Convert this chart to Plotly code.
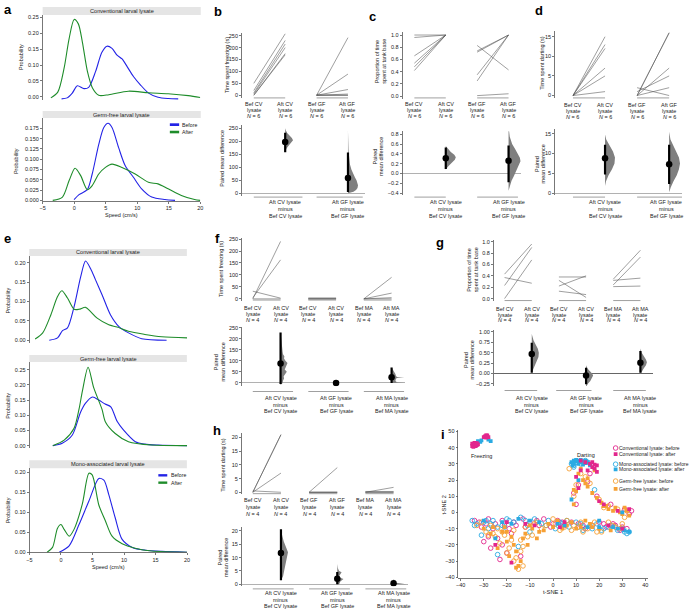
import plotly.graph_objects as go

W, H = 689, 615
FONT = "Liberation Sans"
TXC = "#222222"
AXC = "#555555"
BLUE = "#2323e6"
GREEN = "#1e8c2a"
MAG = "#e2268d"
CYAN = "#2aaae2"
ORNG = "#f6a035"
VGREY = "#7f7f7f"

# ======================= DATA =======================
# Panel a: speed distributions
a_cv_bef_x = [-2.0, -1.1, -0.3, 0.5, 1.55, 2.3, 3.4, 4.4, 5.2, 6.0, 6.8, 7.6, 8.4, 9.4, 10.5, 11.8, 13.3, 14.9, 16.5]
a_cv_bef_y = [-0.006, -0.003, 0.012, 0.035, 0.026, 0.030, 0.080, 0.140, 0.159, 0.152, 0.131, 0.119, 0.095, 0.064, 0.038, 0.012, -0.001, -0.005, -0.006]
a_cv_aft_x = [-3.7, -2.6, -1.6, -0.8, 0.0, 0.66, 1.3, 2.1, 2.9, 3.9, 5.5, 8.6, 11.8, 14.9, 18.1, 20.0]
a_cv_aft_y = [-0.003, 0.015, 0.090, 0.183, 0.243, 0.229, 0.172, 0.080, 0.028, 0.005, 0.007, 0.018, 0.013, 0.010, 0.004, -0.002]
a_gf_bef_x = [-0.02, 0.77, 2.08, 2.86, 3.9, 4.7, 5.38, 6.0, 7.05, 8.1, 9.4, 10.7, 12.3, 14.4, 16.0]
a_gf_bef_y = [0.002, 0.014, 0.026, 0.064, 0.136, 0.177, 0.187, 0.177, 0.128, 0.084, 0.056, 0.028, 0.008, 0.002, 0.0]
a_gf_aft_x = [-3.4, -1.86, -0.8, 0.14, 1.03, 2.08, 2.86, 3.9, 4.96, 6.0, 7.58, 9.68, 11.77, 13.3, 14.9, 17.0, 19.1, 20.0]
a_gf_aft_y = [0.0, 0.008, 0.048, 0.078, 0.060, 0.026, 0.036, 0.064, 0.080, 0.088, 0.080, 0.064, 0.044, 0.040, 0.028, 0.012, 0.002, 0.0]

# Panel e: speed distributions
e_cv_bef_x = [-1.86, -0.55, 0.24, 1.03, 2.08, 3.12, 3.9, 4.7, 5.48, 6.53, 7.84, 9.15, 10.72, 12.8, 16.75]
e_cv_bef_y = [0.0, 0.006, 0.025, 0.032, 0.087, 0.164, 0.205, 0.185, 0.156, 0.117, 0.066, 0.036, 0.019, 0.004, 0.0]
e_cv_aft_x = [-4.1, -2.9, -1.6, -0.55, 0.14, 1.03, 2.08, 2.86, 3.9, 4.7, 5.74, 7.58, 8.9, 10.7, 13.3, 16.0, 20.0]
e_cv_aft_y = [0.003, 0.019, 0.066, 0.113, 0.128, 0.109, 0.080, 0.080, 0.085, 0.074, 0.057, 0.040, 0.034, 0.023, 0.015, 0.009, 0.006]
e_gf_bef_x = [-1.3, 0.2, 1.8, 3.1, 3.9, 5.0, 6.0, 7.0, 7.9, 8.9, 9.9, 11.8, 13.3, 15.4, 20.0]
e_gf_bef_y = [0.0, 0.008, 0.035, 0.110, 0.140, 0.160, 0.150, 0.137, 0.128, 0.080, 0.052, 0.013, 0.005, 0.002, 0.0]
e_gf_aft_x = [-1.3, 0.5, 2.07, 2.86, 3.4, 4.3, 5.2, 6.5, 7.05, 8.6, 10.7, 14.4, 20.0]
e_gf_aft_y = [0.0, 0.018, 0.057, 0.120, 0.180, 0.258, 0.190, 0.120, 0.078, 0.040, 0.013, 0.002, 0.0]
e_ma_bef_x = [-0.28, 1.29, 2.86, 4.43, 6.0, 6.8, 7.58, 8.6, 9.7, 11.3, 13.4, 16.0, 20.0]
e_ma_bef_y = [0.0, 0.016, 0.069, 0.128, 0.184, 0.180, 0.144, 0.086, 0.032, 0.012, 0.005, 0.002, 0.0]
e_ma_aft_x = [-2.2, -1.34, -0.55, 0.0, 0.5, 1.29, 2.07, 3.38, 4.43, 4.95, 6.0, 7.05, 8.1, 9.7, 11.76, 14.4, 20.0]
e_ma_aft_y = [0.0, 0.012, 0.060, 0.069, 0.057, 0.040, 0.057, 0.120, 0.197, 0.193, 0.118, 0.078, 0.040, 0.021, 0.010, 0.003, 0.0]

# Panel b: time spent freezing (s), N = 6
b_cv_bef = [50, 20, 10, 5, 0, 0]
b_cv_aft = [258, 230, 215, 200, 175, 170]
b_gf_bef = [0, 0, 0, 0, 0, 0]
b_gf_aft = [242, 89, 24, 5, 0, 0]
b_mean = [197, 58]
b_lo = [158, 4]
b_hi = [233, 157]
b_v1_y = [158, 168, 178, 188, 196, 204, 212, 222, 232, 242, 250]
b_v1_w = [0, 0.1, 0.3, 0.6, 0.85, 1.0, 0.85, 0.55, 0.25, 0.08, 0]
b_v2_y = [0, 5, 12, 20, 30, 40, 50, 60, 75, 90, 110, 130, 160, 200, 240]
b_v2_w = [0, 0.55, 0.8, 0.95, 1.0, 0.95, 0.85, 0.7, 0.5, 0.35, 0.2, 0.12, 0.06, 0.03, 0]

# Panel c: proportion of time at tank base, N = 6
c_cv_bef = [1.0, 0.96, 0.66, 0.54, 0.48, 0.42]
c_cv_aft = [1.0, 1.0, 1.0, 1.0, 1.0, 1.0]
c_gf_bef = [0.83, 0.74, 0.72, 0.35, 0.25, 0.01]
c_gf_aft = [0.43, 1.0, 1.0, 1.0, 1.0, 0.04]
c_mean = [0.31, 0.26]
c_lo = [0.09, -0.18]
c_hi = [0.53, 0.57]
c_v1_y = [0.08, 0.15, 0.22, 0.28, 0.33, 0.38, 0.44, 0.5, 0.56]
c_v1_w = [0, 0.25, 0.6, 0.9, 1.0, 0.85, 0.5, 0.2, 0]
c_v2_y = [-0.35, -0.25, -0.15, -0.05, 0.05, 0.15, 0.25, 0.32, 0.4, 0.5, 0.6, 0.75, 0.95]
c_v2_w = [0, 0.1, 0.25, 0.45, 0.65, 0.85, 1.0, 0.95, 0.8, 0.55, 0.3, 0.1, 0]

# Panel d: time spent darting (s), N = 6
d_cv_bef = [0, 0, 0, 0, 0, 0]
d_cv_aft = [15, 13, 12, 7, 5, 1]
d_gf_bef = [0, 0, 0, 1, 2, 0]
d_gf_aft = [16, 16, 7, 5, 0, 2]
d_mean = [8.8, 7.3]
d_lo = [4.7, 2.3]
d_hi = [12.2, 12.2]
d_v1_y = [1.8, 3, 4.5, 6, 7.5, 9, 10.5, 12, 13.5, 14.8]
d_v1_w = [0, 0.1, 0.35, 0.7, 0.95, 1.0, 0.8, 0.45, 0.12, 0]
d_v2_y = [0.2, 1.5, 3, 4.5, 6, 7.5, 9, 10.5, 12, 13.5, 15.5]
d_v2_w = [0, 0.15, 0.4, 0.7, 0.9, 1.0, 0.9, 0.65, 0.35, 0.12, 0]

# Panel f: time spent freezing (s), N = 4
f_cv_bef = [0, 5, 32, 0]
f_cv_aft = [240, 163, 3, 0]
f_gf_bef = [4, 0, 0, 0]
f_gf_aft = [4, 0, 0, 0]
f_ma_bef = [0, 0, 0, 0]
f_ma_aft = [90, 24, 5, 0]
f_mean = [88, 0, 25]
f_lo = [-5, 0, 0]
f_hi = [228, 0, 70]
f_v1_y = [-10, 0, 10, 20, 30, 40, 50, 60, 70, 80, 90, 100, 110, 120, 130, 140, 160, 180, 200, 230]
f_v1_w = [0, 0.3, 0.35, 0.5, 0.45, 0.7, 0.9, 0.6, 0.75, 0.95, 1.0, 0.7, 0.5, 0.55, 0.35, 0.3, 0.2, 0.15, 0.1, 0]
f_v3_y = [0, 2, 3, 4, 8, 15, 20, 23, 25, 27, 30, 40, 50, 60, 70]
f_v3_w = [0.3, 0.5, 1.0, 0.4, 0.3, 0.3, 0.35, 0.5, 1.0, 0.45, 0.35, 0.3, 0.2, 0.1, 0]

# Panel g: proportion of time at tank base, N = 4
g_cv_bef = [0.43, 0.23, 0.37, 0.0]
g_cv_aft = [0.96, 0.90, 0.27, 0.68]
g_gf_bef = [0.38, 0.32, 0.22, 0.13]
g_gf_aft = [0.38, 0.02, 0.40, 0.07]
g_ma_bef = [0.34, 0.24, 0.32, 0.21]
g_ma_aft = [0.85, 0.73, 0.36, 0.22]
g_mean = [0.47, -0.05, 0.26]
g_lo = [0.02, -0.26, 0.02]
g_hi = [0.74, 0.14, 0.54]
g_v1_y = [0.02, 0.1, 0.2, 0.3, 0.4, 0.5, 0.6, 0.7, 0.8, 0.95]
g_v1_w = [0, 0.2, 0.45, 0.75, 0.95, 1.0, 0.85, 0.55, 0.25, 0]
g_v2_y = [-0.33, -0.25, -0.18, -0.1, -0.05, 0.0, 0.06, 0.12, 0.2]
g_v2_w = [0, 0.25, 0.6, 0.9, 1.0, 0.85, 0.5, 0.2, 0]
g_v3_y = [-0.02, 0.05, 0.12, 0.2, 0.27, 0.34, 0.42, 0.5, 0.6]
g_v3_w = [0, 0.2, 0.5, 0.85, 1.0, 0.85, 0.5, 0.2, 0]

# Panel h: time spent darting (s), N = 4
h_cv_bef = [0, 0, 0, 0.5]
h_cv_aft = [21, 21, 7, 0]
h_gf_bef = [0, 0, 0, 0]
h_gf_aft = [9, 0, 0, 0]
h_ma_bef = [0, 0.3, 0, 0]
h_ma_aft = [1.8, 0.3, 0, 0]
h_mean = [11.7, 2.1, 0.4]
h_lo = [1.5, 0, 0]
h_hi = [20.6, 4.6, 1.2]
h_v1_y = [1.5, 3, 5, 7, 9, 10.5, 12, 13, 14.5, 16, 18, 20.6]
h_v1_w = [0, 0.3, 0.45, 0.6, 0.7, 0.8, 1.0, 0.85, 0.6, 0.4, 0.2, 0]
h_v2_y = [0, 1, 2, 2.5, 3, 4.5, 5, 6, 7.6]
h_v2_w = [0.3, 0.5, 1.0, 0.4, 0.3, 0.7, 0.3, 0.1, 0]
h_v3_y = [0, 0.3, 0.6, 1.0, 1.5, 2.0]
h_v3_w = [1.0, 0.3, 0.2, 0.15, 0.1, 0]

# Panel i: t-SNE embedding
cv_bef_x = [-34, -31, -28, -25, -22, -19, -16, -13, -10, -7, -4, -1, 2, 5, 8, 11, 14, 17, 20, 23, 26, 29, 32, 34,
            -30, -27, -24, -20, -18, -23, 9, 10, 15, 19, 31, 33,
            -32, -29, -26, -21, -17, -12, -6, 0, 4, 13, 22, 27, 30, -22, -28, -14, 11, 16, 25]
cv_bef_y = [-5, -9, -4, -7, -5, -10, -8, -4, -6, -5, -4, -9, -5, -8, -6, -7, -10, -8, -6, -9, -7, -11, -10, 1,
            -18, -22, -16, -25, -13, -29, 12, 5, 19, 10, 2, -1,
            -6, -7, -10, -8, -6, -9, -8, -7, -6, -8, -7, -8, -9, -20, -15, -27, 17, 24, 5]
cv_aft_x = [-35, -34, -33, -34.5, -33.5, -35, -32.5, -29.5, -28.5, -29, -28, -30, 16, 17, 18, 19, 14, 12, 15, 10,
            11, -20, -12, 5, 24, 30, 33, 20, -18, -25, 12,
            -34, -33.5, -34, -29, -28.5, -33, 17, 18, 19, 22, 28, -8, 3]
cv_aft_y = [41, 43, 41.5, 40.5, 42.5, 42.5, 42, 47, 47.5, 46.2, 46.5, 46.5, 30, 28, 27, 29, 31, 32, 26, 22,
            15, -6, -7, -6, -8, -10, 2, 7, -31, -20, 26,
            41.5, 41, 42.5, 47.5, 46.8, 42.8, 31, 29.5, 25, 5, 1, -8, -9]
ma_bef_x = [-35, -33, -30, -28, -26, -22, -20, -17, -14, -11, -8, -5, -2, 1, 4, 7, 10, 13, 16, 19, 22, 25, 28, 31,
            33, 8, 10, 12, 14, 9, -31, -24, -15, -10, 18, 12,
            -34, -29, -24, -19, -12, -3, 3, 6, 11, 17, 21, 24, 27, 30, 32, -27, -21, 15, 9, 13]
ma_bef_y = [-5, -7, -6, -10, -5, -8, -4, -6, -3, -8, -4, -7, -5, -10, -7, -9, -6, -11, -8, -7, -10, -8, -11, -12,
            -12, 30, 31, 30, 32, 28, -14, -26, -21, -12, 14, -7,
            -8, -5, -9, -5, -5, -8, -6, -5, -9, -10, -11, -9, -9, -10, -13, -7, -9, 31, 29, -9]
ma_aft_x = [8, 9, 10, 11, 12, 13, 14, 15, 9, 11, 13, 16, -32.5, -31.5, -28, -31, -30, -22, -15, -6, 2, 15, 26, 31,
            30, 8, -25, 20,
            10, 12, 14, 16, 8.5, -27, 5, 20, 28, 33, -10, -18, 11]
ma_aft_y = [31, 32, 31.5, 32, 31, 31.5, 30.5, 31, 30, 30, 29.5, 29, 44, 43.5, 45, 44.5, -5, -6, -4, -6, -7, -9, -9,
            -11, 0, 8, -16, -5,
            32.5, 32.5, 32, 30, 29, 44, -8, -9, -10, -12, -5, -7, 20]
gf_bef_x = [-33, -29, -27, -24, -23, -21, -19, -17, -16, -14, -13, -12, -9, -7, -3, 0, 3, 6, 9, 12, 15, 18, 21, 24,
            27, 30, 28, 32, 10, 9, 14, 20, 24, 7, -15, -26,
            -31, -28, -25, -22, -20, -18, -14, -11, -8, -5, 1, 5, 8, 11, 13, 17, 19, 22, 26, 29, 31, 16, 12, -17, -13]
gf_bef_y = [-8, -12, -8, -10, -19, -14, -22, -11, -28, -17, -33, -9, -14, -6, -8, -4, -11, -5, -8, -6, -10, -6, -12,
            -6, -9, -7, 2, 1, 17, 10, 22, 8, 4, 27, -35, -13,
            -6, -14, -15, -12, -25, -17, -24, -15, -7, -10, -7, -9, -11, -9, -12, -8, -12, 3, -8, -10, -3, 18, 24, -30, -21]
gf_aft_x = [-30, -26, -22, -20, -18, -16, -15, -14, -12, -11, -9, -6, -2, 2, 6, 10, 14, 17, 11, 13, 15, 17, 19, 21,
            23, 26, 29, 31, 33, 10, 9, 12, 18, -19, 25,
            -27, -24, -21, -17, -13, -10, -4, 0, 4, 8, 12, 16, 20, 22, 24, 27, 30, 32, 14, 15, 9, -16, -20, -7]
gf_aft_y = [-10, -9, -12, -18, -15, -24, -33, -30, -13, -20, -10, -12, -7, -5, -8, -10, -5, -9, 24, 20, 16, 12, 9, 6,
            4, 1, 0, 3, -2, 13, 5, 27, 26, -27, -11,
            -13, -22, -9, -20, -16, -8, -11, -9, -10, -6, -9, -7, -10, 4, 2, 3, -1, 1, 18, 21, 14, -34, -12, -16]
i_legend = ["Conventional lysate: before", "Conventional lysate: after",
            "Mono-associated lysate: before", "Mono-associated lysate: after",
            "Germ-free lysate: before", "Germ-free lysate: after"]

# ======================= HELPERS =======================
def lin(va, pa, vb, pb):
    k = (pb - pa) / (vb - va)
    return lambda v: pa + (v - va) * k

axes = {}
annotations = []
shapes = []
traces = []
cnt = [0]
TICKF = dict(size=5.5, family=FONT, color=TXC)


def clamp(v):
    return max(0.0, min(1.0, v))


def make_axes(xm, xr, ym, yr, xa_extra=None, ya_extra=None):
    cnt[0] += 1
    n = cnt[0]
    s = '' if n == 1 else str(n)
    x0, x1 = xm(xr[0]) / W, xm(xr[1]) / W
    y0, y1 = 1 - ym(yr[0]) / H, 1 - ym(yr[1]) / H
    xa = dict(domain=[clamp(min(x0, x1)), clamp(max(x0, x1))], range=list(xr), anchor='y' + s,
              showgrid=False, zeroline=False, showline=False, showticklabels=False, ticks='')
    ya = dict(domain=[clamp(min(y0, y1)), clamp(max(y0, y1))], range=list(yr), anchor='x' + s,
              showgrid=False, zeroline=False, showline=True, linecolor=AXC, linewidth=0.8,
              ticks='outside', ticklen=2, tickwidth=0.8, tickcolor=AXC, tickfont=TICKF)
    if xa_extra:
        xa.update(xa_extra)
    if ya_extra:
        ya.update(ya_extra)
    axes['xaxis' + s] = xa
    axes['yaxis' + s] = ya
    return 'x' + s, 'y' + s


def text(px, py, s, size=5.5, anchor='center', angle=0, color=TXC):
    annotations.append(dict(x=px / W, y=1 - py / H, xref='paper', yref='paper', text=s,
                            showarrow=False, xanchor=anchor, yanchor='middle', textangle=angle,
                            borderpad=0, font=dict(size=size, family=FONT, color=color)))


def hline(x0, x1, y, color='#888888', width=0.8):
    shapes.append(dict(type='line', xref='paper', yref='paper', x0=x0 / W, x1=x1 / W,
                       y0=1 - y / H, y1=1 - y / H, line=dict(color=color, width=width)))


def rect(x0, x1, y0, y1, color):
    shapes.append(dict(type='rect', xref='paper', yref='paper', x0=x0 / W, x1=x1 / W,
                       y0=1 - y1 / H, y1=1 - y0 / H, fillcolor=color, line=dict(width=0), layer='below'))


def curve(xa, ya, xs, ys, color):
    traces.append(go.Scatter(x=xs, y=ys, mode='lines', line=dict(color=color, width=1.1, shape='spline', smoothing=0.8),
                             xaxis=xa, yaxis=ya, hoverinfo='skip', showlegend=False))


def strip(x0, x1, y0, y1, label):
    rect(x0, x1, y0, y1, '#e5e5e5')
    text((x0 + x1) / 2, (y0 + y1) / 2, label, size=5.6)


def ytitle(px, py, lines, dx=6.5):
    for k, ln in enumerate(lines):
        text(px + k * dx, py, ln, size=5.5, angle=-90)


def letter(px, py, s):
    text(px, py, '<b>%s</b>' % s, size=13, color='#000000')


# ---------- paired (top) panel ----------
def paired_top(xm, xr, ym, yr, yticks, yfmt, groups, names, nlab, lab_y, lab_dy, br_y):
    xa, ya = make_axes(xm, xr, ym, yr, ya_extra=dict(tickvals=yticks, tickformat=yfmt))
    for g, (bef, aft) in enumerate(groups):
        p0, p1 = 2 * g, 2 * g + 1
        for b, a in zip(bef, aft):
            traces.append(go.Scatter(x=[p0, p1], y=[b, a], mode='lines',
                                     line=dict(color='rgba(80,80,80,0.65)', width=0.85),
                                     xaxis=xa, yaxis=ya, hoverinfo='skip', showlegend=False))
        hline(xm(p0), xm(p1), br_y)
        for p in (p0, p1):
            text(xm(p), lab_y, names[p])
            text(xm(p), lab_y + lab_dy, 'lysate')
            text(xm(p), lab_y + 2 * lab_dy, '<i>N</i> = %d' % nlab)


# ---------- difference (bottom) panel ----------
def diff_bottom(xm, xr, ym, yr, yticks, yfmt, means, los, his, violins, spans, labels,
                lab_y, lab_dy, br_y, zcolor='#a8a8a8', lab_shift=None):
    xa, ya = make_axes(xm, xr, ym, yr, ya_extra=dict(tickvals=yticks, tickformat=yfmt, zeroline=True,
                                                     zerolinecolor=zcolor, zerolinewidth=0.9))
    for g in range(len(means)):
        p = 2 * g + 1
        v = violins[g]
        if v is not None:
            vy, vw, sc = v
            xs = [p + w * sc for w in vw] + [p for _ in vw[::-1]]
            ys = list(vy) + list(vy[::-1])
            traces.append(go.Scatter(x=xs, y=ys, mode='lines', fill='toself', fillcolor=VGREY,
                                     line=dict(width=0, color=VGREY), xaxis=xa, yaxis=ya,
                                     hoverinfo='skip', showlegend=False))
        traces.append(go.Scatter(x=[p, p], y=[los[g], his[g]], mode='lines', line=dict(color='black', width=2.2),
                                 xaxis=xa, yaxis=ya, hoverinfo='skip', showlegend=False))
        traces.append(go.Scatter(x=[p], y=[means[g]], mode='markers', marker=dict(color='black', size=6.5),
                                 xaxis=xa, yaxis=ya, hoverinfo='skip', showlegend=False))
        s0, s1 = spans[g]
        hline(xm(s0), xm(s1), br_y)
        a_lab, b_lab = labels[g]
        lx = xm(p) + (lab_shift[g] if lab_shift else 0)
        text(lx, lab_y, a_lab)
        text(lx, lab_y + lab_dy, 'minus')
        text(lx, lab_y + 2 * lab_dy, b_lab)


# ======================= PANEL a =======================
xm_a = lin(-5, 40, 20, 199)
ym_a1 = lin(0.25, 15.3, 0.0, 95.7)
xa, ya = make_axes(xm_a, (-5, 20), ym_a1, (-0.010, 0.257),
                   ya_extra=dict(tickvals=[0, 0.05, 0.10, 0.15, 0.20, 0.25], tickformat='.2f'))
curve(xa, ya, a_cv_bef_x, a_cv_bef_y, BLUE)
curve(xa, ya, a_cv_aft_x, a_cv_aft_y, GREEN)
strip(40, 199.5, 5, 13, 'Conventional larval lysate')
ytitle(17.5, 55, ['Probability'])

ym_a2 = lin(0.175, 127.3, 0.0, 200.0)
xopts = dict(showline=True, linecolor=AXC, linewidth=0.8, ticks='outside', ticklen=2, tickwidth=0.8,
             tickcolor=AXC, showticklabels=True, tickvals=[-5, 0, 5, 10, 15, 20], tickfont=TICKF)
xa, ya = make_axes(xm_a, (-5, 20), ym_a2, (-0.0015, 0.2), xa_extra=xopts,
                   ya_extra=dict(tickvals=[0, 0.025, 0.05, 0.075, 0.1, 0.125, 0.15, 0.175], tickformat='.3f'))
curve(xa, ya, a_gf_bef_x, a_gf_bef_y, BLUE)
curve(xa, ya, a_gf_aft_x, a_gf_aft_y, GREEN)
strip(40, 199.5, 110, 117, 'Germ-free larval lysate')
ytitle(12.5, 160, ['Probability'])
text(120, 214.5, 'Speed (cm/s)')
rect(168.3, 177.7, 122.3, 125, BLUE)
rect(168.3, 177.7, 129.8, 132.4, GREEN)
text(180, 123.7, 'Before', size=5.2, anchor='left')
text(180, 131.1, 'After', size=5.2, anchor='left')
letter(5, 8, 'a')

# ======================= PANEL e =======================
xm_e = lin(-5, 26.7, 20, 185.7)
ym_e1 = lin(0.2, 263, 0.0, 341)
xa, ya = make_axes(xm_e, (-5, 20), ym_e1, (-0.0077, 0.218),
                   ya_extra=dict(tickvals=[0, 0.05, 0.10, 0.15, 0.20], tickformat='.2f'))
curve(xa, ya, e_cv_bef_x, e_cv_bef_y, BLUE)
curve(xa, ya, e_cv_aft_x, e_cv_aft_y, GREEN)
strip(26.5, 185.5, 249, 256, 'Conventional larval lysate')
ytitle(5, 301, ['Probability'])

ym_e2 = lin(0.25, 370.7, 0.0, 447.3)
xa, ya = make_axes(xm_e, (-5, 20), ym_e2, (-0.009, 0.275),
                   ya_extra=dict(tickvals=[0, 0.05, 0.10, 0.15, 0.20, 0.25], tickformat='.2f'))
curve(xa, ya, e_gf_bef_x, e_gf_bef_y, BLUE)
curve(xa, ya, e_gf_aft_x, e_gf_aft_y, GREEN)
strip(26.5, 185.5, 356, 363, 'Germ-free larval lysate')
ytitle(5, 407, ['Probability'])

ym_e3 = lin(0.2, 474, 0.0, 554.7)
xa, ya = make_axes(xm_e, (-5, 20), ym_e3, (-0.0008, 0.21), xa_extra=xopts,
                   ya_extra=dict(tickvals=[0, 0.05, 0.10, 0.15, 0.20], tickformat='.2f'))
curve(xa, ya, e_ma_bef_x, e_ma_bef_y, BLUE)
curve(xa, ya, e_ma_aft_x, e_ma_aft_y, GREEN)
strip(26.5, 185.5, 462, 470, 'Mono-associated larval lysate')
ytitle(4.5, 512, ['Probability'])
text(106, 570, 'Speed (cm/s)')
rect(156.7, 165.7, 476, 478.4, BLUE)
rect(156.7, 165.7, 483.4, 485.8, GREEN)
text(168.3, 477.2, 'Before', size=5.2, anchor='left')
text(168.3, 484.6, 'After', size=5.2, anchor='left')
letter(4.5, 238.5, 'e')

# ======================= PANEL b =======================
xm_b = lin(0, 253, 3, 348)
names4 = ['Bef CV', 'Aft CV', 'Bef GF', 'Aft GF']
paired_top(xm_b, (-0.38, 3.55), lin(250, 34, 0, 94), (-10, 262), [0, 50, 100, 150, 200, 250], '',
           [(b_cv_bef, b_cv_aft), (b_gf_bef, b_gf_aft)], names4, 6, 103.3, 6.0, 96.7)
diff_bottom(xm_b, (-0.38, 3.55), lin(250, 127.3, 0, 192.7), (-12, 262), [0, 50, 100, 150, 200, 250], '',
            b_mean, b_lo, b_hi, [(b_v1_y, b_v1_w, 0.25), (b_v2_y, b_v2_w, 0.32)],
            [(0, 1.55), (2, 3.47)], [('Aft CV lysate', 'Bef CV lysate'), ('Aft GF lysate', 'Bef GF lysate')],
            201.7, 7.2, 196.7)
ytitle(226.5, 64, ['Time spent freezing (s)'])
ytitle(221, 158, ['Paired mean difference'])
letter(216.5, 10, 'b')

# ======================= PANEL c =======================
xm_c = lin(0, 415, 3, 510)
paired_top(xm_c, (-0.38, 3.4), lin(1.0, 33.3, 0.0, 95), (-0.04, 1.05), [0, 0.2, 0.4, 0.6, 0.8, 1.0], '.1f',
           [(c_cv_bef, c_cv_aft), (c_gf_bef, c_gf_aft)], names4, 6, 103.3, 6.0, 96.7)
diff_bottom(xm_c, (-0.38, 3.4), lin(0.8, 133.3, -0.4, 192.7), (-0.43, 0.86),
            [-0.4, -0.2, 0, 0.2, 0.4, 0.6, 0.8], '.1f',
            c_mean, c_lo, c_hi, [(c_v1_y, c_v1_w, 0.32), (c_v2_y, c_v2_w, 0.38)],
            [(0, 1.0), (2, 3.3)], [('Aft CV lysate', 'Bef CV lysate'), ('Aft GF lysate', 'Bef GF lysate')],
            201.7, 7.2, 196.7)
ytitle(377, 60, ['Proportion of time', 'spent at tank base'])
ytitle(375, 156, ['Paired', 'mean difference'])
letter(373, 15, 'c')

# ======================= PANEL d =======================
xm_d = lin(0, 575, 3, 672)
paired_top(xm_d, (-0.56, 3.4), lin(15, 35, 0, 94.3), (-0.6, 16.5), [0, 5, 10, 15], '',
           [(d_cv_bef, d_cv_aft), (d_gf_bef, d_gf_aft)], names4, 6, 104, 6.2, 96.7)
diff_bottom(xm_d, (-0.56, 3.4), lin(15, 132.7, 0, 192.7), (-0.5, 16.2), [0, 5, 10, 15], '',
            d_mean, d_lo, d_hi, [(d_v1_y, d_v1_w, 0.31), (d_v2_y, d_v2_w, 0.34)],
            [(0, 1.0), (2, 3.4)], [('Aft CV lysate', 'Bef CV lysate'), ('Aft GF lysate', 'Bef GF lysate')],
            201.7, 7.2, 196.7, lab_shift=[0, -3])
ytitle(544, 62, ['Time spent darting (s)'])
ytitle(538, 163, ['Paired', 'mean difference'])
letter(541, 9, 'd')

# ======================= PANEL f =======================
xm_f = lin(0, 252, 5, 392)
names6_f = ['Bef CV', 'Aft CV', 'Bef CV', 'Aft CV', 'Bef MA', 'Aft MA']
labels3 = [('Aft CV lysate', 'Bef CV lysate'), ('Aft GF lysate', 'Bef GF lysate'), ('Aft MA lysate', 'Bef MA lysate')]
paired_top(xm_f, (-0.39, 5.5), lin(250, 239, 0, 299.3), (-8, 255), [0, 50, 100, 150, 200, 250], '',
           [(f_cv_bef, f_cv_aft), (f_gf_bef, f_gf_aft), (f_ma_bef, f_ma_aft)], names6_f, 4, 308.3, 6.2, 300.5)
diff_bottom(xm_f, (-0.39, 5.5), lin(250, 328.3, 0, 384), (-15, 255), [0, 50, 100, 150, 200, 250], '',
            f_mean, f_lo, f_hi, [(f_v1_y, f_v1_w, 0.25), None, (f_v3_y, f_v3_w, 0.46)],
            [(0, 1.45), (2, 3.45), (4, 5.45)], labels3, 399.3, 6.5, 392.7)
ytitle(220, 269, ['Time spent freezing (s)'])
ytitle(215, 363, ['Paired', 'mean difference'])
letter(216, 238, 'f')

# ======================= PANEL g =======================
xm_g = lin(0, 506, 5, 643)
paired_top(xm_g, (-0.4, 5.45), lin(1.0, 241.7, 0.0, 299), (-0.04, 1.03), [0, 0.2, 0.4, 0.6, 0.8, 1.0], '.1f',
           [(g_cv_bef, g_cv_aft), (g_gf_bef, g_gf_aft), (g_ma_bef, g_ma_aft)], names6_f, 4, 310, 5.5, 301)
diff_bottom(xm_g, (-0.4, 5.45), lin(1.0, 332.7, -0.25, 385), (-0.3, 1.05),
            [-0.25, 0, 0.25, 0.5, 0.75, 1.0], '.2f',
            g_mean, g_lo, g_hi, [(g_v1_y, g_v1_w, 0.26), (g_v2_y, g_v2_w, 0.26), (g_v3_y, g_v3_w, 0.24)],
            [(0, 1.2), (1.9, 3.2), (4, 5.2)], labels3, 399.3, 6.5, 391.7, zcolor='#555555')
ytitle(470, 270, ['Proportion of time', 'spent at tank base'])
ytitle(467, 361, ['Paired', 'mean difference'])
letter(441, 242, 'g')

# ======================= PANEL h =======================
xm_h = lin(0, 252, 5, 394)
names6_h = ['Bef CV', 'Aft CV', 'Bef GF', 'Aft GF', 'Bef MA', 'Aft MA']
paired_top(xm_h, (-0.39, 5.5), lin(20, 439, 0, 494.3), (-0.7, 21.5), [0, 5, 10, 15, 20], '',
           [(h_cv_bef, h_cv_aft), (h_gf_bef, h_gf_aft), (h_ma_bef, h_ma_aft)], names6_h, 4, 501.7, 7.4, 495.7)
diff_bottom(xm_h, (-0.39, 5.5), lin(20, 533.3, 0, 587), (-0.8, 21.5), [0, 5, 10, 15, 20], '',
            h_mean, h_lo, h_hi, [(h_v1_y, h_v1_w, 0.25), (h_v2_y, h_v2_w, 0.22), (h_v3_y, h_v3_w, 0.45)],
            [(0, 1.45), (2, 3.45), (4, 5.45)], labels3, 596, 6.5, 591.7)
ytitle(222.5, 467, ['Time spent darting (s)'])
ytitle(219, 560, ['Paired', 'mean difference'])
letter(216, 432, 'h')

# ======================= PANEL i =======================
xm_i = lin(-40, 461.7, 40, 648)
ym_i = lin(40, 449.3, -40, 580)
xopts_i = dict(showline=True, linecolor=AXC, linewidth=0.8, ticks='outside', ticklen=2, tickwidth=0.8,
               tickcolor=AXC, showticklabels=True, tickvals=list(range(-40, 41, 10)), tickfont=TICKF)
xa, ya = make_axes(xm_i, (-41, 41), ym_i, (-40.3, 51), xa_extra=xopts_i,
                   ya_extra=dict(tickvals=list(range(-40, 51, 10))))
series = [
    (cv_bef_x, cv_bef_y, MAG, False),
    (cv_aft_x, cv_aft_y, MAG, True),
    (ma_bef_x, ma_bef_y, CYAN, False),
    (ma_aft_x, ma_aft_y, CYAN, True),
    (gf_bef_x, gf_bef_y, ORNG, False),
    (gf_aft_x, gf_aft_y, ORNG, True),
]


def mk(color, filled):
    if filled:
        return dict(symbol='square', size=3.8, color=color, line=dict(width=0))
    return dict(symbol='circle-open', size=4.6, color=color, line=dict(width=0.9, color=color))


for sx, sy, col, filled in [series[0], series[2], series[4], series[5], series[3], series[1]]:
    traces.append(go.Scatter(x=sx, y=sy, mode='markers', marker=mk(col, filled), xaxis=xa, yaxis=ya,
                             hoverinfo='skip', showlegend=False))
inv_x = lin(461.7, -40, 648, 40)
inv_y = lin(449.3, 40, 580, -40)
leg_y = [449.7, 455.8, 466.0, 471.3, 483.0, 490.8]
for k, (name, (_, _, col, filled)) in enumerate(zip(i_legend, series)):
    traces.append(go.Scatter(x=[inv_x(618.0)], y=[inv_y(leg_y[k])], mode='markers', marker=mk(col, filled),
                             xaxis=xa, yaxis=ya, hoverinfo='skip', showlegend=False))
    text(620.8, leg_y[k], name, size=5.0, anchor='left')
text(483, 457.5, 'Freezing', size=5.5)
text(588, 456.5, 'Darting', size=5.5)
text(555, 594.5, 't-SNE 1', size=5.8)
ytitle(444.5, 507, ['t-SNE 2'])
letter(444, 436, 'i')

# ======================= FIGURE =======================
fig = go.Figure(data=traces)
fig.update_layout(width=W, height=H, autosize=False, margin=dict(l=0, r=0, t=0, b=0),
                  paper_bgcolor='white', plot_bgcolor='rgba(0,0,0,0)', showlegend=False,
                  annotations=annotations, shapes=shapes, font=dict(family=FONT, size=6, color=TXC),
                  hovermode=False, dragmode=False, **axes)
fig.write_html("out.html", config={'displayModeBar': False, 'staticPlot': True},
               post_script="document.body.style.margin='0';document.body.style.padding='0';"
                           "document.body.style.overflow='hidden';")
